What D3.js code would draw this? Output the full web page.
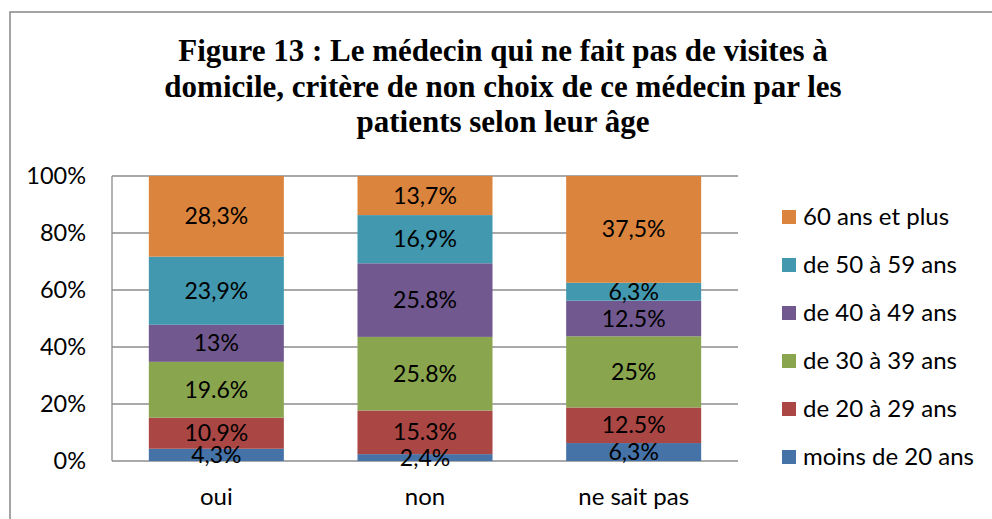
<!DOCTYPE html>
<html lang="fr">
<head>
<meta charset="utf-8">
<title>Figure 13</title>
<script src="https://d3js.org/d3.v7.min.js"></script>
<style>
  body { margin: 0; background: #fff; }
  .chart text { font-family: Lato, "Open Sans", sans-serif; fill: #000; }
</style>
</head>
<body>
<div class="chart"></div>
<script>
// categories and age groups (bottom to top of each bar)
const categories = ['oui', 'non', 'ne sait pas'];
const groups = ['moins de 20 ans', 'de 20 à 29 ans', 'de 30 à 39 ans', 'de 40 à 49 ans', 'de 50 à 59 ans', '60 ans et plus'];
const colors = ['#4572A7', '#AA4643', '#89A54E', '#71588F', '#4198AF', '#DB843D'];

// values per category, same order as groups
const ouiValues = [4.3, 10.9, 19.6, 13, 23.9, 28.3];
const nonValues = [2.4, 15.3, 25.8, 25.8, 16.9, 13.7];
const nspValues = [6.3, 12.5, 25, 12.5, 6.3, 37.5];

// labels as printed on the chart
const ouiLabels = ['4,3%', '10.9%', '19.6%', '13%', '23,9%', '28,3%'];
const nonLabels = ['2,4%', '15.3%', '25.8%', '25.8%', '16,9%', '13,7%'];
const nspLabels = ['6,3%', '12.5%', '25%', '12.5%', '6,3%', '37,5%'];

const yTicks = [0, 20, 40, 60, 80, 100];
const titleLines = [
  'Figure 13 : Le médecin qui ne fait pas de visites à',
  'domicile, critère de non choix de ce médecin par les',
  'patients selon leur âge'
];

const width = 992, height = 519;
const plot = {left: 112, right: 738, top: 176, bottom: 461};

const svg = d3.select('.chart')
  .append('svg')
  .attr('width', width)
  .attr('height', height);

// outer chart border
svg.append('rect')
  .attr('x', 10).attr('y', 12)
  .attr('width', 1000).attr('height', 540)
  .attr('fill', 'none')
  .attr('stroke', '#878787')
  .attr('stroke-width', 1.5);

// title
svg.selectAll('.title')
  .data(titleLines)
  .enter()
  .append('text')
  .attr('class', 'title')
  .attr('x', 503)
  .attr('y', (d, i) => 61 + i * 35.5)
  .attr('text-anchor', 'middle')
  .style('font-family', '"Liberation Serif", "Times New Roman", serif')
  .style('font-weight', 'bold')
  .style('font-size', '31px')
  .text(d => d);

const x = d3.scaleBand()
  .domain(categories)
  .range([plot.left, plot.right])
  .paddingInner(0.353)
  .paddingOuter(0.1765);

const y = d3.scaleLinear()
  .domain([0, 100])
  .range([plot.bottom, plot.top]);

// gridlines
svg.selectAll('.grid')
  .data(yTicks)
  .enter()
  .append('line')
  .attr('x1', plot.left)
  .attr('x2', plot.right)
  .attr('y1', d => y(d))
  .attr('y2', d => y(d))
  .attr('stroke', '#8c8c8c')
  .attr('stroke-width', 1.3);

svg.append('line')
  .attr('x1', plot.left).attr('x2', plot.left)
  .attr('y1', plot.top).attr('y2', plot.bottom)
  .attr('stroke', '#8c8c8c')
  .attr('stroke-width', 1.3);

// y tick labels
svg.selectAll('.ytick')
  .data(yTicks)
  .enter()
  .append('text')
  .attr('x', 86)
  .attr('y', d => y(d))
  .attr('dy', '0.35em')
  .attr('text-anchor', 'end')
  .style('font-size', '23.5px')
  .text(d => d + '%');

// build 100% stacked segments
const series = [ouiValues, nonValues, nspValues];
const labels = [ouiLabels, nonLabels, nspLabels];
const segments = [];
categories.forEach((cat, ci) => {
  const total = d3.sum(series[ci]);
  let acc = 0;
  series[ci].forEach((v, gi) => {
    const y0 = acc / total * 100;
    acc += v;
    const y1 = acc / total * 100;
    segments.push({cat, group: gi, y0, y1, label: labels[ci][gi]});
  });
});

svg.selectAll('.seg')
  .data(segments)
  .enter()
  .append('rect')
  .attr('x', d => x(d.cat))
  .attr('width', x.bandwidth())
  .attr('y', d => y(d.y1))
  .attr('height', d => y(d.y0) - y(d.y1))
  .attr('fill', d => colors[d.group]);

svg.selectAll('.seglabel')
  .data(segments)
  .enter()
  .append('text')
  .attr('x', d => x(d.cat) + x.bandwidth() / 2)
  .attr('y', d => y((d.y0 + d.y1) / 2))
  .attr('dy', '0.35em')
  .attr('text-anchor', 'middle')
  .style('font-size', '23px')
  .text(d => d.label);

// category labels
svg.selectAll('.xlabel')
  .data(categories)
  .enter()
  .append('text')
  .attr('x', d => x(d) + x.bandwidth() / 2)
  .attr('y', 497)
  .attr('dy', '0.35em')
  .attr('text-anchor', 'middle')
  .style('font-size', '24px')
  .text(d => d);

// legend, top item is the last group
const legendItems = groups.map((g, i) => ({name: g, color: colors[i]})).reverse();
const legend = svg.selectAll('.legend')
  .data(legendItems)
  .enter()
  .append('g')
  .attr('transform', (d, i) => 'translate(782,' + (217 + i * 48) + ')');

legend.append('rect')
  .attr('x', 0).attr('y', -7)
  .attr('width', 14).attr('height', 14)
  .attr('fill', d => d.color);

legend.append('text')
  .attr('x', 21)
  .attr('y', 0)
  .attr('dy', '0.35em')
  .style('font-size', '24px')
  .text(d => d.name);
</script>
</body>
</html>
